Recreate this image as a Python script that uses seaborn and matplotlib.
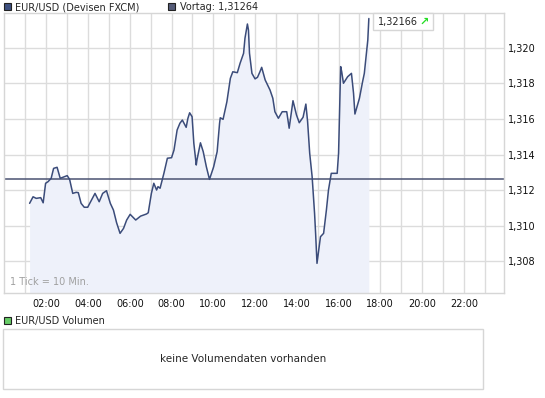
import matplotlib
matplotlib.use("Agg")
import matplotlib.pyplot as plt
from matplotlib.patches import Rectangle
from matplotlib.ticker import FixedLocator, FuncFormatter
import seaborn as sns
import pandas as pd

sns.set_style("white")
plt.rcParams["font.family"] = ["DejaVu Sans"]

# Kursdaten EUR/USD (Minuten seit Mitternacht, Kurs)
minuten = [72, 82, 91, 104, 111, 118, 125, 134, 141, 151,
           160, 168, 180, 187, 196, 206, 212, 220, 229, 239,
           260, 272, 282, 293, 304, 313, 322, 332, 342, 351,
           361, 377, 391, 408, 413, 422, 429, 437, 441, 447,
           458, 468, 480, 487, 496, 504, 511, 522, 527, 532,
           539, 544, 551, 553, 563, 571, 580, 589, 601, 611,
           618, 620, 628, 639, 649, 656, 669, 677, 687, 691,
           698, 701, 704, 711, 720, 727, 734, 739, 749, 763,
           771, 777, 787, 798, 811, 818, 829, 839, 847, 858,
           866, 871, 877, 884, 891, 894, 898, 903, 908, 917,
           925, 931, 939, 956, 960, 966, 969, 974, 986, 997,
           1003, 1007, 1020, 1029, 1034, 1044, 1047]
kurs = [1.31125, 1.31162, 1.31153, 1.31157, 1.31128, 1.31238, 1.31247, 1.31266, 1.31322, 1.31328,
        1.31266, 1.31272, 1.31281, 1.31260, 1.31181, 1.31187, 1.31185, 1.31125, 1.31103, 1.31103,
        1.31181, 1.31134, 1.31181, 1.31196, 1.31125, 1.31087, 1.31016, 1.30956, 1.30984, 1.31031,
        1.31063, 1.31031, 1.31053, 1.31065, 1.31072, 1.31181, 1.31238, 1.31200, 1.31219, 1.31210,
        1.31294, 1.31379, 1.31382, 1.31425, 1.31538, 1.31576, 1.31594, 1.31553, 1.31604, 1.31635,
        1.31613, 1.31463, 1.31341, 1.31369, 1.31466, 1.31416, 1.31331, 1.31260, 1.31331, 1.31416,
        1.31576, 1.31607, 1.31598, 1.31697, 1.31829, 1.31866, 1.31861, 1.31914, 1.31970, 1.32055,
        1.32135, 1.32101, 1.31970, 1.31857, 1.31826, 1.31835, 1.31866, 1.31891, 1.31820, 1.31763,
        1.31717, 1.31641, 1.31604, 1.31641, 1.31641, 1.31548, 1.31703, 1.31623, 1.31579, 1.31610,
        1.31684, 1.31585, 1.31407, 1.31275, 1.31069, 1.30956, 1.30787, 1.30862, 1.30937, 1.30956,
        1.31087, 1.31200, 1.31294, 1.31294, 1.31407, 1.31895, 1.31866, 1.31801, 1.31838, 1.31857,
        1.31745, 1.31628, 1.31717, 1.31810, 1.31857, 1.32045, 1.32166]

vortag = 1.31264
letzter = 1.32166
y_ticks = [1.308, 1.310, 1.312, 1.314, 1.316, 1.318, 1.320]
x_labels = [2, 4, 6, 8, 10, 12, 14, 16, 18, 20, 22]

df = pd.DataFrame({"Stunde": [m / 60 for m in minuten], "Kurs": kurs})

W, H = 545, 398
fig = plt.figure(figsize=(W / 100, H / 100), dpi=100)
ax = fig.add_axes([3.5 / W, (H - 293) / H, 500 / W, 280 / H])

linie = "#3b4c7a"
ax.fill_between(df["Stunde"], df["Kurs"], 1.3, color="#eef1fa", zorder=1, linewidth=0)
sns.lineplot(data=df, x="Stunde", y="Kurs", ax=ax, color=linie, linewidth=1.1,
             estimator=None, sort=False, zorder=3)
ax.axhline(vortag, color="#4a5272", linewidth=1.1, zorder=2)

ax.set_xlim(-0.05, 23.9)
ax.set_ylim(1.30620, 1.32197)
ax.xaxis.set_major_locator(FixedLocator(x_labels))
ax.xaxis.set_minor_locator(FixedLocator(range(1, 24)))
ax.xaxis.set_major_formatter(FuncFormatter(lambda v, p: f"{int(v):02d}:00"))
ax.set_yticks(y_ticks)
ax.yaxis.set_major_formatter(FuncFormatter(lambda v, p: f"{v:.3f}".replace(".", ",")))
ax.yaxis.tick_right()
ax.tick_params(axis="both", length=0, labelsize=7, colors="#111111")
ax.tick_params(axis="x", pad=4)
ax.tick_params(axis="y", pad=3)
ax.grid(True, which="both", axis="x", color="#dcdcdc", linewidth=1, zorder=0)
ax.grid(True, which="major", axis="y", color="#dcdcdc", linewidth=1, zorder=0)
ax.set_axisbelow(True)
ax.set_xlabel("")
ax.set_ylabel("")
for s in ax.spines.values():
    s.set_color("#d6d6d6")
    s.set_linewidth(1)

ax.text(0.012, 0.02, "1 Tick = 10 Min.", transform=ax.transAxes, fontsize=7,
        color="#a0a0a0", ha="left", va="bottom")

# Kopfzeile
def quadrat(x, y, farbe):
    fig.patches.append(Rectangle((x / W, 1 - (y + 7) / H), 7 / W, 7 / H,
                                 transform=fig.transFigure, facecolor=farbe,
                                 edgecolor="#222222", linewidth=0.8))

quadrat(4, 3, "#3e5080")
fig.text(15 / W, 1 - 7 / H, "EUR/USD (Devisen FXCM)", fontsize=7, va="center", ha="left")
quadrat(168, 3, "#555c78")
fig.text(180 / W, 1 - 7 / H, "Vortag: " + f"{vortag:.5f}".replace(".", ","),
         fontsize=7, va="center", ha="left")

# Aktueller Kurs
fig.patches.append(Rectangle((373 / W, 1 - 30 / H), 60 / W, 17 / H, transform=fig.transFigure,
                             facecolor="white", edgecolor="#d6d6d6", linewidth=1, zorder=5))
fig.text(378 / W, 1 - 21.5 / H, f"{letzter:.5f}".replace(".", ","), fontsize=7,
         va="center", ha="left", zorder=6)
fig.text(419 / W, 1 - 21.5 / H, "\u2197", fontsize=8, color="#22dd22", fontweight="bold",
         va="center", ha="left", zorder=6)

# Volumen
quadrat(4, 317, "#66cc66")
fig.text(15 / W, 1 - 321 / H, "EUR/USD Volumen", fontsize=7, va="center", ha="left")
fig.patches.append(Rectangle((3 / W, 1 - 389 / H), 480 / W, 60 / H, transform=fig.transFigure,
                             facecolor="white", edgecolor="#d6d6d6", linewidth=1))
fig.text(243 / W, 1 - 359 / H, "keine Volumendaten vorhanden", fontsize=7.5,
         va="center", ha="center")

fig.savefig("out.png", dpi=100)
